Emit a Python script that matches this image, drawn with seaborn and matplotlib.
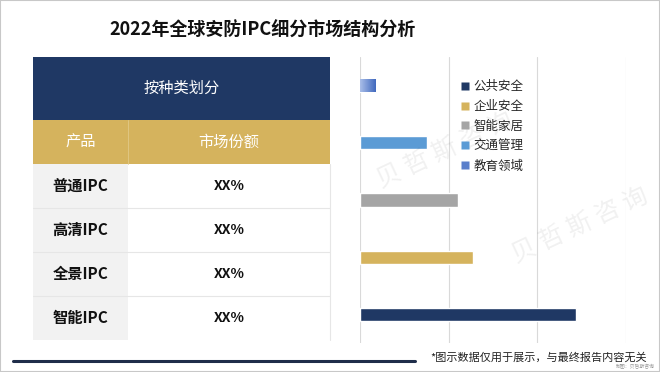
import matplotlib
matplotlib.use("Agg")
import matplotlib.pyplot as plt
import seaborn as sns
import pandas as pd
import numpy as np
from matplotlib.patches import Rectangle
from matplotlib.lines import Line2D

# ---------------- data ----------------
title = "2022年全球安防IPC细分市场结构分析"
table_header = "按种类划分"
col_headers = ["产品", "市场份额"]
products = ["普通IPC", "高清IPC", "全景IPC", "智能IPC"]
shares = ["XX%", "XX%", "XX%", "XX%"]

segments = ["教育领域", "交通管理", "智能家居", "企业安全", "公共安全"]
values = [1.8, 7.5, 11.0, 12.7, 24.4]
legend_order = ["公共安全", "企业安全", "智能家居", "交通管理", "教育领域"]
seg_colors = ["#5A7FCB", "#5B9BD5", "#A5A5A5", "#D5B35D", "#1F3864"]

footnote = "*图示数据仅用于展示，与最终报告内容无关"
credit = "制图：贝哲斯咨询"
watermark = "贝 哲 斯 咨 询"

# ---------------- style ----------------
sns.set_theme(style="white")
plt.rcParams["font.family"] = ["Noto Sans CJK SC", "DejaVu Sans"]

W, H = 660, 372
fig = plt.figure(figsize=(W / 100, H / 100), dpi=100)
fig.patch.set_facecolor("white")


def fx(px):
    return px / W


def fy(py):
    return 1 - py / H


def rect(x0, y0, x1, y1, color, z=1, **kw):
    fig.add_artist(Rectangle((fx(x0), fy(y1)), fx(x1) - fx(x0), fy(y0) - fy(y1),
                             transform=fig.transFigure, facecolor=color,
                             edgecolor="none", zorder=z, **kw))


def hline(x0, x1, y, color, lw=0.8, z=2):
    fig.add_artist(Line2D([fx(x0), fx(x1)], [fy(y), fy(y)], transform=fig.transFigure,
                          color=color, lw=lw, zorder=z))


def vline(x, y0, y1, color, lw=0.8, z=2):
    fig.add_artist(Line2D([fx(x), fx(x)], [fy(y0), fy(y1)], transform=fig.transFigure,
                          color=color, lw=lw, zorder=z))


# watermark (faint), kept inside the picture
for (px, py, rot) in [(445, 150, 25), (580, 225, 25), (200, 90, 15)]:
    fig.text(fx(px), fy(py), watermark, fontsize=18, color="#000000", alpha=0.06,
             rotation=rot, ha="center", va="center", zorder=0)

# title
fig.text(fx(263), fy(30), title, fontsize=13, fontweight="bold", color="#111111",
         ha="center", va="center", zorder=5)

# ---------------- table ----------------
tx0, tx1, tcol = 33, 330, 128
rect(tx0, 57, tx1, 120, "#1F3864")
fig.text(fx((tx0 + tx1) / 2), fy(88.5), table_header, color="white", fontsize=11,
         ha="center", va="center", zorder=5)
rect(tx0, 120, tx1, 164, "#D5B35D")
vline(tcol, 120, 164, "#E2C988", lw=0.6)
fig.text(fx((tx0 + tcol) / 2), fy(142), col_headers[0], color="white", fontsize=11,
         ha="center", va="center", zorder=5)
fig.text(fx((tcol + tx1) / 2), fy(142), col_headers[1], color="white", fontsize=11,
         ha="center", va="center", zorder=5)

row_h = 44
for i, (p, s) in enumerate(zip(products, shares)):
    y0 = 164 + i * row_h
    y1 = y0 + row_h
    rect(tx0, y0, tcol, y1, "#F2F2F2")
    if i > 0:
        hline(tx0, tx1, y0, "#E6E6E6", lw=0.8)
    fig.text(fx((tx0 + tcol) / 2), fy((y0 + y1) / 2), p, color="#111111", fontsize=11,
             fontweight="bold", ha="center", va="center", zorder=5)
    fig.text(fx((tcol + tx1) / 2), fy((y0 + y1) / 2), s, color="#111111", fontsize=10,
             fontweight="bold", ha="center", va="center", zorder=5)
vline(tx1, 164, 164 + 4 * row_h, "#E6E6E6", lw=0.8)

# bottom rule and footnote
hline(13, 415, 361, "#1F2D4A", lw=2.2)
fig.text(fx(430), fy(357), footnote, fontsize=8, color="#222222", ha="left",
         va="center", zorder=5)
fig.text(fx(655), fy(367), credit, fontsize=3.5, color="#999999", ha="right",
         va="center", zorder=5)

# ---------------- bar chart ----------------
ax = fig.add_axes([fx(360), fy(343), fx(626) - fx(360), fy(57) - fy(343)])
df = pd.DataFrame({"segment": segments, "value": values})
palette = dict(zip(segments, seg_colors))
sns.barplot(data=df, x="value", y="segment", hue="segment", order=segments,
            hue_order=segments, palette=palette, width=0.23, saturation=1,
            dodge=False, legend=False, ax=ax)
ax.set_facecolor("none")
ax.set_xlim(0, 30)
ax.set_xticks([0, 10, 20, 30])
ax.xaxis.grid(True, color="#D9D9D9", lw=0.8)
ax.yaxis.grid(False)
ax.set_axisbelow(True)
ax.tick_params(labelbottom=False, labelleft=False, length=0)
ax.set_xlabel("")
ax.set_ylabel("")
for sp in ax.spines.values():
    sp.set_visible(False)

# gradient on the 教育领域 bar
for patch in ax.patches:
    bb = patch.get_bbox()
    if abs((bb.y0 + bb.y1) / 2 - segments.index("教育领域")) < 0.01 and bb.width > 0:
        grad = np.linspace(0, 1, 64).reshape(1, -1)
        cmap = matplotlib.colors.LinearSegmentedColormap.from_list("g", ["#A9BEE8", "#4169BE"])
        im = ax.imshow(grad, cmap=cmap, aspect="auto",
                       extent=[bb.x0, bb.x1, bb.y1, bb.y0], zorder=3)
        im.set_clip_path(patch)
ax.set_xlim(0, 30)
ax.set_ylim(4.5, -0.5)

# legend
handles = [Line2D([0], [0], marker="s", linestyle="none", markersize=6,
                  markerfacecolor=palette[s], markeredgecolor="none") for s in legend_order]
fig.legend(handles, legend_order, loc="upper left", bbox_to_anchor=(fx(460), fy(80)),
           frameon=False, fontsize=9, handlelength=0.8, handletextpad=0.3,
           labelspacing=0.55, borderpad=0, borderaxespad=0)

# frame
fig.add_artist(Rectangle((0, 0), 1, 1, transform=fig.transFigure, fill=False,
                         edgecolor="#C8C8C8", lw=1.5, zorder=10))

fig.savefig("out.png", dpi=100)
